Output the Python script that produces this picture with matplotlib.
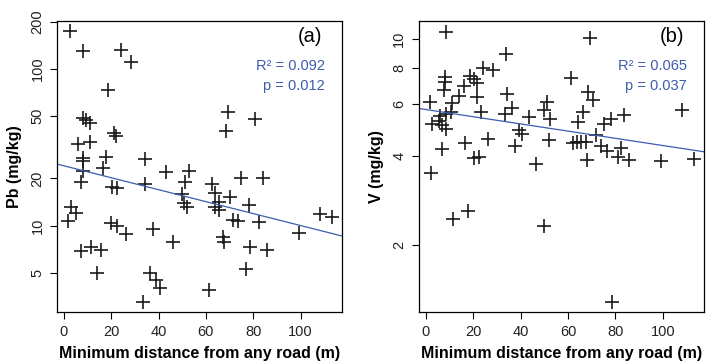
import numpy as np
import matplotlib
matplotlib.use("Agg")
import matplotlib.pyplot as plt

plt.rcParams['font.family'] = ['Liberation Sans', 'DejaVu Sans']

# distance to nearest road (m) and Pb concentration (mg/kg)
dist_pb = [2.5, 8.0, 24.2, 28.5, 18.7, 69.2, 80.9, 68.5,
           7.9, 9.2, 11.0, 21.2, 21.9, 5.8, 11.0,
           7.9, 7.9, 18.0, 34.3, 16.6, 8.3, 43.0, 52.7,
           7.2, 20.5, 22.6, 34.1,
           51.0, 49.9, 50.6, 52.0,
           62.5, 63.9, 65.7, 63.9, 65.7, 70.2, 74.9, 83.9, 78.0, 71.4, 73.7,
           82.6, 67.4, 67.7, 78.7, 85.7, 77.0, 61.4, 99.4, 108.2, 113.1,
           3.0, 5.1, 1.6, 19.8, 22.6, 26.1, 37.7, 46.2,
           7.3, 11.5, 15.9, 14.0, 33.4, 36.2, 39.0, 40.7]
pb = [175, 130, 133, 111, 74, 53, 48, 40,
      48.4, 47, 45, 38.8, 37.2, 33, 34,
      27.1, 25.8, 27.5, 26.6, 23.2, 22.4, 22.1, 22.4,
      19.1, 17.7, 17.4, 18.5,
      19.1, 15.9, 13.9, 13.2,
      18.4, 16.1, 14.2, 13.2, 12.6, 15.3, 20.0, 20.0, 13.6, 10.9, 10.7,
      10.6, 8.5, 7.9, 7.3, 7.0, 5.25, 3.9, 8.9, 11.8, 11.3,
      13.1, 12.0, 10.7, 10.4, 9.9, 8.8, 9.5, 7.8,
      6.9, 7.3, 7.0, 5.0, 3.23, 4.94, 4.48, 4.0]

# distance to nearest road (m) and V concentration (mg/kg)
dist_v = [8.4, 69.2, 34.0, 24.2, 28.5, 61.2,
          8.2, 8.2, 7.8, 18.6, 20.4, 21.5, 16.2, 14.1, 21.8, 34.1,
          1.7, 11.2, 51.3, 49.9, 52.4, 36.5, 33.3, 23.2, 43.5, 10.5,
          6.1, 2.8, 5.6, 7.0, 8.4, 8.4,
          7.0, 16.6, 26.3, 20.4, 22.5, 2.3, 37.7, 39.3, 40.7, 46.4, 52.0,
          68.3, 70.7, 66.2, 64.1, 75.0, 78.1, 83.7, 108.0, 71.8, 62.0, 63.8,
          65.5, 67.6, 73.9, 76.4, 82.3, 80.9, 85.8, 68.0, 99.2, 113.2,
          11.5, 17.8, 49.9, 78.7]
v = [10.6, 10.05, 8.9, 7.98, 7.85, 7.38,
     7.45, 7.13, 6.71, 7.5, 7.31, 7.06, 6.92, 6.41, 6.37, 6.48,
     6.1, 6.04, 6.1, 5.74, 5.34, 5.81, 5.54, 5.63, 5.42, 5.63,
     5.48, 5.13, 5.26, 5.10, 4.93, 5.55,
     4.22, 4.44, 4.56, 3.95, 3.98, 3.5, 4.34, 4.89, 4.77, 3.75, 4.53,
     6.62, 6.21, 5.64, 5.21, 5.13, 5.35, 5.51, 5.72, 4.71, 4.42, 4.45,
     4.45, 4.47, 4.31, 4.16, 4.27, 3.98, 3.88, 3.88, 3.85, 3.91,
     2.44, 2.61, 2.31, 1.27]

# log10(conc) = a + b * distance
fit_pb = (1.382, -0.00382)
fit_v = (0.7604, -0.001227)
stats_pb = ["R\u00b2 = 0.092", "p = 0.012"]
stats_v = ["R\u00b2 = 0.065", "p = 0.037"]

blue = '#3d5caf'
xlim = (-2.9, 117.4)

fig = plt.figure(figsize=(7.23, 3.64), dpi=100)
ax1 = fig.add_axes([0.0788, 0.142, 0.394, 0.801])
ax2 = fig.add_axes([0.5791, 0.142, 0.395, 0.801])

panels = [
    (ax1, dist_pb, pb, fit_pb, stats_pb, '(a)', 'Pb (mg/kg)', (2.79, 203.6), [5, 10, 20, 50, 100, 200]),
    (ax2, dist_v, v, fit_v, stats_v, '(b)', 'V (mg/kg)', (1.176, 11.54), [2, 4, 6, 8, 10]),
]

for ax, x, y, fit, stats, tag, ylab, ylim, yt in panels:
    ax.plot(x, y, '+', color='#1a1a1a', markersize=10, markeredgewidth=1.2)
    xx = np.array(xlim)
    ax.plot(xx, 10 ** (fit[0] + fit[1] * xx), color=blue, lw=0.9)
    ax.set_yscale('log')
    ax.set_xlim(xlim)
    ax.set_ylim(ylim)
    ax.set_yticks(yt)
    ax.set_yticklabels([str(t) for t in yt], rotation=90, va='center')
    ax.yaxis.set_minor_locator(matplotlib.ticker.NullLocator())
    ax.set_xticks([0, 20, 40, 60, 80, 100])
    ax.tick_params(direction='out', length=5, width=0.8, labelsize=10.5,
                   labelcolor='#222222', pad=4)
    for s in ax.spines.values():
        s.set_linewidth(0.9)
    ax.set_xlabel('Minimum distance from any road (m)', fontsize=11.5,
                  fontweight='bold', labelpad=5)
    ax.set_ylabel(ylab, fontsize=11.5, fontweight='bold', labelpad=6)
    ax.text(0.93, 0.945, tag, transform=ax.transAxes, ha='right', va='center',
            fontsize=14.5)
    ax.text(0.94, 0.845, stats[0], transform=ax.transAxes, ha='right',
            va='center', fontsize=10.5, color=blue)
    ax.text(0.94, 0.777, stats[1], transform=ax.transAxes, ha='right',
            va='center', fontsize=10.5, color=blue)

fig.savefig('out.png', dpi=100)
